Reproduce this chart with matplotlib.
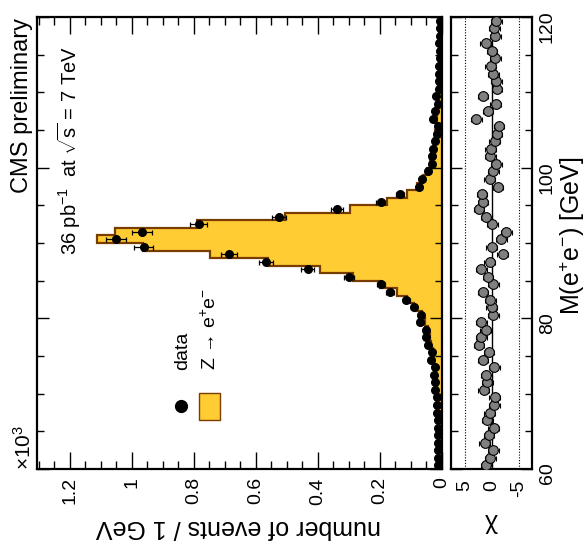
import numpy as np
import matplotlib
matplotlib.use("Agg")
import matplotlib.pyplot as plt
from matplotlib.ticker import MultipleLocator, FuncFormatter
from matplotlib.patches import Rectangle

plt.rcParams['font.family'] = ['Liberation Sans', 'DejaVu Sans']
plt.rcParams['mathtext.fontset'] = 'custom'
plt.rcParams['mathtext.rm'] = 'Liberation Sans'
plt.rcParams['mathtext.it'] = 'Liberation Sans:italic'
plt.rcParams['mathtext.sf'] = 'Liberation Sans'

# 1 GeV bins from 60 to 120
mass_edges = np.arange(60, 121, 1)
mass_centers = mass_edges[:-1] + 0.5

# events per bin, in thousands
data_k = [0.012, 0.012, 0.012, 0.013, 0.013, 0.013, 0.014, 0.015, 0.015, 0.015,
          0.023, 0.023, 0.026, 0.023, 0.035, 0.033, 0.046, 0.050, 0.053, 0.071,
          0.068, 0.091, 0.115, 0.168, 0.197, 0.300, 0.432, 0.567, 0.687, 0.961,
          1.049, 0.967, 0.784, 0.525, 0.338, 0.198, 0.135, 0.074, 0.064, 0.046,
          0.033, 0.033, 0.028, 0.023, 0.017, 0.014, 0.030, 0.023, 0.014, 0.020,
          0.009, 0.009, 0.009, 0.010, 0.008, 0.008, 0.010, 0.007, 0.007, 0.006]

mc_k = [0.011, 0.012, 0.012, 0.011, 0.012, 0.014, 0.013, 0.014, 0.017, 0.017,
        0.017, 0.019, 0.021, 0.024, 0.026, 0.030, 0.034, 0.039, 0.045, 0.055,
        0.066, 0.090, 0.113, 0.145, 0.200, 0.287, 0.394, 0.561, 0.748, 0.965,
        1.113, 1.055, 0.790, 0.506, 0.297, 0.177, 0.113, 0.081, 0.062, 0.048,
        0.038, 0.032, 0.027, 0.026, 0.021, 0.019, 0.015, 0.020, 0.017, 0.013,
        0.012, 0.012, 0.010, 0.010, 0.010, 0.008, 0.007, 0.009, 0.008, 0.008]

chi = [1.0, 0.2, -0.3, 1.25, 0.45, -0.4, 0.8, 0.35, -0.5, -0.6,
       1.45, 0.8, 0.95, -0.5, 1.57, 0.45, 2.3, 1.9, 1.1, 1.9,
       -0.3, 0.0, 0.2, 1.57, -0.3, 0.65, 1.9, 0.3, -2.1, 0.0,
       -1.8, -2.75, -0.15, 0.95, 2.3, 1.57, 1.75, -1.2, 0.3, -0.3,
       -0.9, 0.2, 0.15, -0.6, -1.0, -1.4, 2.8, 0.65, -0.8, 1.57,
       -1.0, -0.9, -0.3, 0.15, -0.7, -0.1, 1.07, -0.7, -0.5, -0.9]

# poisson errors, in thousands
data_err = np.sqrt(np.array(data_k) * 1000) / 1000

W, H = 586, 556
def fx(px):
    return px / W
def fy(py):
    return 1 - py / H

fig = plt.figure(figsize=(W / 100, H / 100), dpi=100)
ax = fig.add_axes([fx(37), fy(469), (442 - 37) / W, (469 - 17) / H])
axr = fig.add_axes([fx(451), fy(469), (532 - 451) / W, (469 - 17) / H])

# main panel (rotated: mass up, counts to the left)
ax.stairs(mc_k, mass_edges, orientation='horizontal', fill=True, color='#ffcc33', zorder=1)
ax.stairs(mc_k, mass_edges, orientation='horizontal', color='#7a3d00', lw=1.6, zorder=2)
ax.errorbar(data_k, mass_centers, xerr=data_err, fmt='o', ms=5.5, color='k',
            ecolor='k', elinewidth=0.9, capsize=1.8, capthick=0.9, zorder=3)
ax.set_xlim(1.305, 0)
ax.set_ylim(60, 120)

ax.xaxis.set_major_locator(MultipleLocator(0.2))
ax.xaxis.set_minor_locator(MultipleLocator(0.05))
ax.xaxis.set_major_formatter(FuncFormatter(lambda v, p: f"{v:g}"))
ax.yaxis.set_major_locator(MultipleLocator(20))
ax.yaxis.set_minor_locator(MultipleLocator(5))
ax.tick_params(axis='both', which='both', direction='in', top=True, right=True,
               labelleft=False, width=1)
ax.tick_params(axis='x', which='major', length=12, labelrotation=90, labelsize=14, pad=6)
ax.tick_params(axis='x', which='minor', length=6)
ax.tick_params(axis='y', which='major', length=8.5)
ax.tick_params(axis='y', which='minor', length=5)

# ratio panel
axr.axvline(0, color='k', lw=1, zorder=1)
axr.axvline(5, color='k', lw=0.8, ls=(0, (1, 1.5)), zorder=1)
axr.axvline(-5, color='k', lw=0.8, ls=(0, (1, 1.5)), zorder=1)
axr.errorbar(chi, mass_centers, xerr=1, fmt='o', ms=7, mfc='#808080', mec='k',
             mew=0.8, ecolor='k', elinewidth=0.9, capsize=1.8, capthick=0.9, zorder=3)
axr.set_xlim(7.5, -7.5)
axr.set_ylim(60, 120)
axr.set_xticks([5, 0, -5])
axr.set_xticklabels(['5', '0', '-5'])
axr.yaxis.set_major_locator(MultipleLocator(20))
axr.yaxis.set_minor_locator(MultipleLocator(5))
axr.tick_params(axis='x', length=0, labelrotation=90, labelsize=14, pad=8)
axr.tick_params(axis='y', which='both', direction='in', left=True, right=True,
                labelleft=False, labelright=True, width=1)
axr.tick_params(axis='y', which='major', length=8, labelrotation=90, labelsize=14, pad=5)
axr.tick_params(axis='y', which='minor', length=5)

for a in (ax, axr):
    for s in a.spines.values():
        s.set_linewidth(1.6)

# legend, drawn by hand because it is rotated
ax.plot([(181 - 37) / 405], [(469 - 406) / 452], 'o', color='k', ms=8.5,
        transform=ax.transAxes, clip_on=False)
ax.add_patch(Rectangle(((199 - 37) / 405, (469 - 420) / 452), 21 / 405, 27 / 452,
                       transform=ax.transAxes, facecolor='#ffcc33', edgecolor='#7a3d00', lw=1))
fig.text(fx(183), fy(370), "data", rotation=90, ha='center', va='bottom', fontsize=14)
fig.text(fx(210), fy(370), "Z → e$^{+}$e$^{-}$", rotation=90,
         ha='center', va='bottom', fontsize=14)

# texts
fig.text(fx(22), fy(193), "CMS preliminary", rotation=90, ha='center', va='bottom', fontsize=17)
fig.text(fx(69), fy(255), r"36 pb$^{-1}$  at $\sqrt{\mathrm{s}}$ = 7 TeV", rotation=90,
         ha='center', va='bottom', fontsize=14.5)
fig.text(fx(24), fy(447), r"$\times$10$^{3}$", rotation=90, ha='center', va='center', fontsize=15)
fig.text(fx(238), fy(527), "number of events / 1 GeV", rotation=180,
         ha='center', va='center', fontsize=18)
fig.text(fx(491), fy(525), "χ", rotation=180, ha='center', va='center', fontsize=18)
fig.text(fx(572), fy(236), r"M(e$^{+}$e$^{-}$) [GeV]", rotation=90,
         ha='center', va='center', fontsize=18)

fig.savefig("out.png", dpi=100)
